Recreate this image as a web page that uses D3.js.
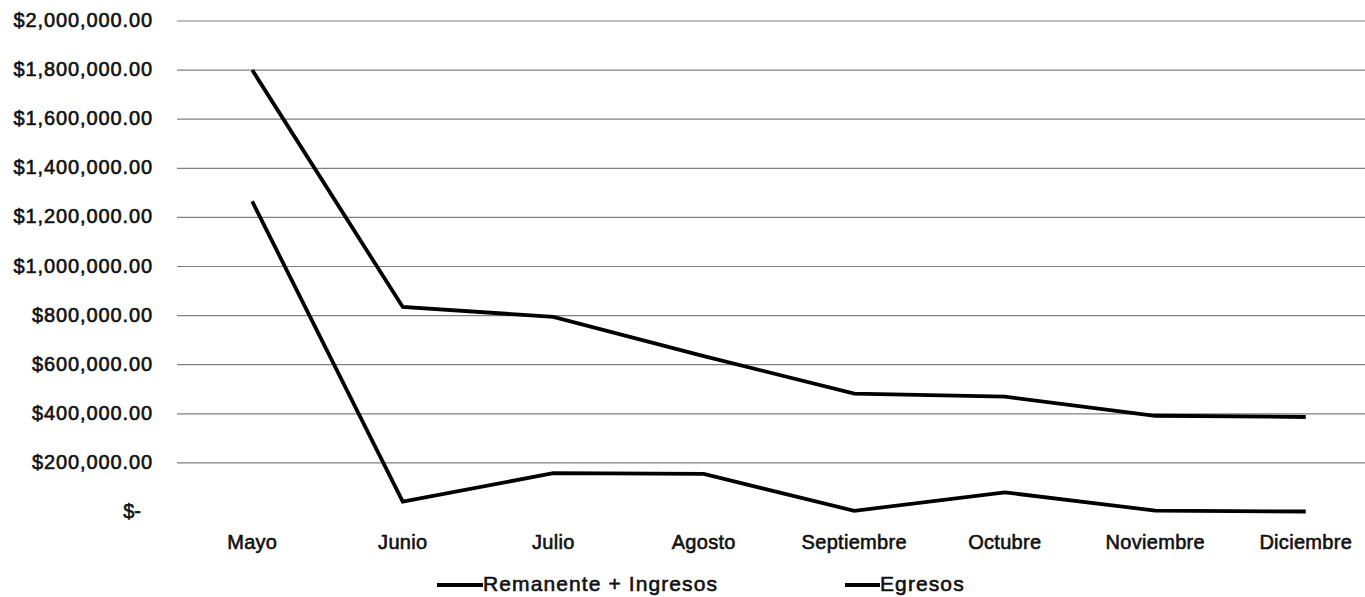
<!DOCTYPE html>
<html>
<head>
<meta charset="utf-8">
<script src="https://cdn.jsdelivr.net/npm/d3@7"></script>
<style>
  body { margin: 0; background: #fff; }
  text { font-family: "Liberation Sans", Arial, sans-serif; fill: #111; stroke: #111; stroke-width: 0.6px; }
</style>
</head>
<body>
<div id="chart"></div>
<script>
// months on the x axis
var months = ["Mayo", "Junio", "Julio", "Agosto", "Septiembre", "Octubre", "Noviembre", "Diciembre"];

// series values
var remanente = [1800000, 835000, 795000, 635000, 482000, 470000, 392000, 387000];
var egresos = [1265000, 42000, 158000, 155000, 5000, 80000, 6000, 2000];

var seriesNames = ["Remanente + Ingresos", "Egresos"];
var yTicks = [0, 200000, 400000, 600000, 800000, 1000000, 1200000, 1400000, 1600000, 1800000, 2000000];

var svgWidth = 1365;
var svgHeight = 597;

var plotLeft = 177, plotRight = 1381, plotTop = 21, plotBottom = 512;

var svg = d3.select("#chart")
    .append("svg")
    .attr("width", svgWidth)
    .attr("height", svgHeight);

//scales
var xScale = d3.scalePoint()
    .domain(months)
    .range([plotLeft, plotRight])
    .padding(0.5);

var yScale = d3.scaleLinear()
    .domain([0, 2000000])
    .range([plotBottom, plotTop]);

var fmt = d3.format("$,.2f");

//gridlines (no line at zero)
svg.append("g")
    .selectAll("line")
    .data(yTicks.filter(d => d > 0))
    .enter()
    .append("line")
    .attr("x1", plotLeft)
    .attr("x2", plotRight)
    .attr("y1", d => yScale(d))
    .attr("y2", d => yScale(d))
    .attr("stroke", "#808080")
    .attr("stroke-width", 1.2);

//y labels
svg.append("g")
    .selectAll("text")
    .data(yTicks)
    .enter()
    .append("text")
    .attr("x", d => d === 0 ? 141 : 153)
    .attr("y", d => yScale(d) + 6)
    .attr("text-anchor", "end")
    .style("font-size", "20px")
    .style("letter-spacing", d => d === 0 ? "0px" : "0.9px")
    .text(d => d === 0 ? "$-" : fmt(d));

//x labels
svg.append("g")
    .selectAll("text")
    .data(months)
    .enter()
    .append("text")
    .attr("x", d => xScale(d))
    .attr("y", 549)
    .attr("text-anchor", "middle")
    .style("font-size", "20px")
    .style("letter-spacing", "0.3px")
    .text(d => d);

//lines
var line = d3.line()
    .x((d, i) => xScale(months[i]))
    .y(d => yScale(d));

[remanente, egresos].forEach(function(series) {
    svg.append("path")
        .datum(series)
        .attr("d", line)
        .attr("fill", "none")
        .attr("stroke", "#000")
        .attr("stroke-width", 3.8)
        .attr("stroke-linejoin", "miter");
});

//legend
var legendX = [437, 845];
var legendLen = [46, 35];
var legend = svg.append("g");
seriesNames.forEach(function(name, i) {
    legend.append("line")
        .attr("x1", legendX[i])
        .attr("x2", legendX[i] + legendLen[i])
        .attr("y1", 585)
        .attr("y2", 585)
        .attr("stroke", "#000")
        .attr("stroke-width", 3.8);
    legend.append("text")
        .attr("x", legendX[i] + legendLen[i])
        .attr("y", 591)
        .style("font-size", "21px")
        .style("letter-spacing", "1.1px")
        .text(name);
});
</script>
</body>
</html>
